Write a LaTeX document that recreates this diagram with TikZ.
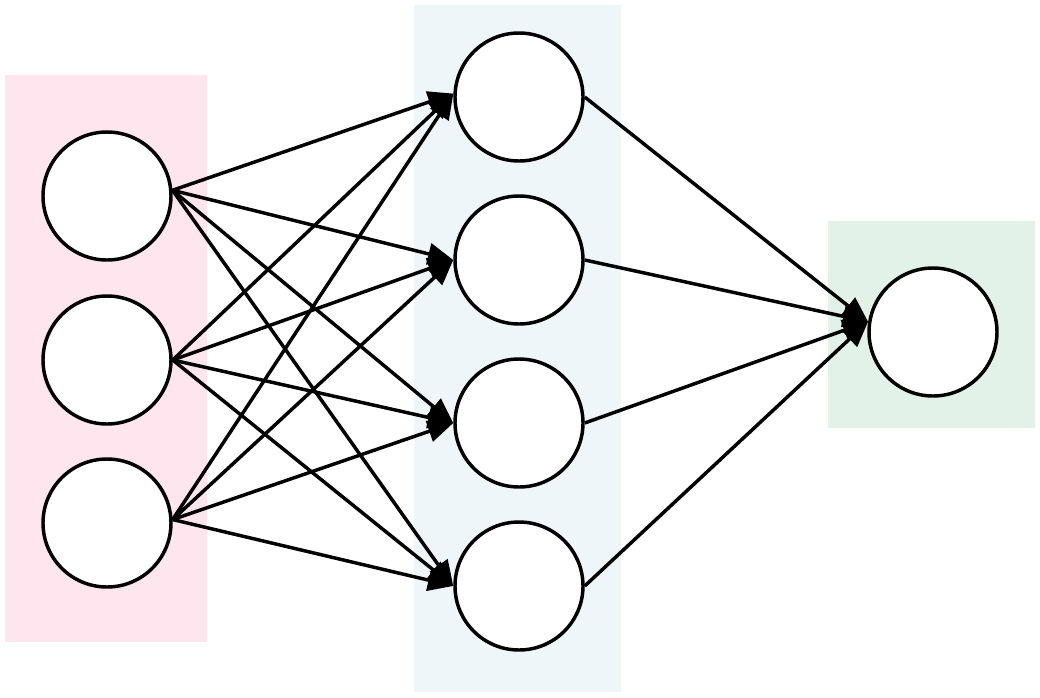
\documentclass[tikz,border=0pt]{standalone}
\usetikzlibrary{arrows.meta}
\definecolor{pinkbg}{HTML}{FFE6EE}
\definecolor{bluebg}{HTML}{EEF6FA}
\definecolor{greenbg}{HTML}{E3F2E8}
\begin{document}
\begin{tikzpicture}[x=0.75pt,y=-0.75pt,
  neuron/.style={circle,draw=black,fill=white,line width=2.6pt,minimum size=128*0.75pt,inner sep=0pt},
  conn/.style={line width=2.6pt,-{Triangle[length=19pt,width=16pt]}}]
\useasboundingbox (0,0) rectangle (1040,697);
\fill[pinkbg] (5,75) rectangle (207,642);
\fill[bluebg] (414,5) rectangle (621,692);
\fill[greenbg] (828,221) rectangle (1035,428);
\node[neuron] (i1) at (107,196) {};
\node[neuron] (i2) at (107,360) {};
\node[neuron] (i3) at (107,523) {};
\node[neuron] (h1) at (519,97) {};
\node[neuron] (h2) at (519,260) {};
\node[neuron] (h3) at (519,423) {};
\node[neuron] (h4) at (519,586) {};
\node[neuron] (o) at (933,332) {};
\foreach \i/\a in {i1/5,i2/0,i3/3}{
  \foreach \h/\b in {h1/177,h2/180,h3/180,h4/180}{
    \draw[conn] (\i.\a) -- (\h.\b);
  }
}
\foreach \h in {h1,h2,h3,h4}{
  \draw[conn] (\h.east) -- (o.171);
}
\end{tikzpicture}
\end{document}
